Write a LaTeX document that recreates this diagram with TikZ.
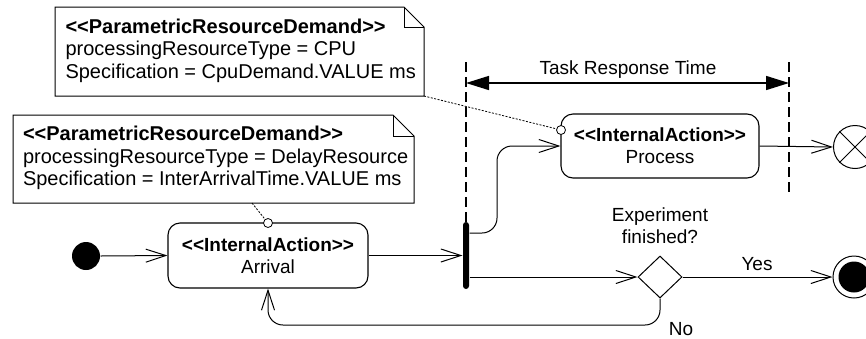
\documentclass[tikz,border=0pt]{standalone}
\usepackage{fontspec}
\setmainfont{Liberation Sans}
\usetikzlibrary{shapes.geometric,arrows.meta,calc}
\newcommand\st[1]{<\kern0pt<#1>\kern0pt>}
\begin{document}
\begin{tikzpicture}[x=1pt,y=-1pt, line width=1pt, font=\fontsize{19}{22}\selectfont,
 flow/.style={-{Straight Barb[length=20pt,width=13pt]}},
 action/.style={draw, rounded corners=12pt, minimum width=200pt, minimum height=65pt, align=center, inner sep=0pt, line width=1.1pt},
 notebox/.style={inner sep=0pt, anchor=north west},
 notetext/.style={inner sep=0pt, align=left, anchor=west, font=\fontsize{20}{22.5}\selectfont},
 port/.style={circle, draw, fill=white, minimum size=9pt, inner sep=0pt, line width=0.8pt},
 link/.style={dash pattern=on 2pt off 1.5pt, line width=0.8pt},
 vdash/.style={dash pattern=on 10pt off 5pt, line width=1.5pt},
 lbl/.style={inner sep=0pt, align=center}]
\useasboundingbox (0,0) rectangle (866,338);
% notes
\node[notebox, minimum width=368pt, minimum height=88pt] (n1) at (55,7) {};
\draw (n1.south west) -- (n1.north west) -- ([xshift=-20pt]n1.north east) -- ([yshift=-20pt]n1.north east) -- (n1.south east) -- cycle;
\draw ([xshift=-20pt]n1.north east) |- ([yshift=-20pt]n1.north east);
\node[notetext] (n1t) at ([xshift=10pt,yshift=1pt]n1.west)
 {\textbf{\st{ParametricResourceDemand}}\\processingResourceType = CPU\\Specification = CpuDemand.VALUE ms};
\node[notebox, minimum width=400pt, minimum height=87pt] (n2) at (13,115) {};
\draw (n2.south west) -- (n2.north west) -- ([xshift=-21pt]n2.north east) -- ([yshift=-21pt]n2.north east) -- (n2.south east) -- cycle;
\draw ([xshift=-21pt]n2.north east) |- ([yshift=-21pt]n2.north east);
\node[notetext] (n2t) at ([xshift=9.5pt,yshift=1pt]n2.west)
 {\textbf{\st{ParametricResourceDemand}}\\processingResourceType = DelayResource\\Specification = InterArrivalTime.VALUE ms};
% actions
\node[action] (arr) at (268,255.5) {\textbf{\st{InternalAction}}\\Arrival};
\node[action, minimum width=198pt, minimum height=64pt] (proc) at (660,146) {\textbf{\st{InternalAction}}\\Process};
\node[circle, fill=black, minimum size=28pt, inner sep=0pt] (init) at (86,256) {};
\node[fill=black, minimum width=6pt, minimum height=67pt, inner sep=0pt, rounded corners=3pt] (fork) at (466,255.5) {};
\node[diamond, draw, minimum width=44pt, minimum height=42pt, inner sep=0pt, aspect=1.05] (dec) at (660,277) {};
\node[circle, draw, minimum size=42pt, inner sep=0pt] (fin) at (854,277) {};
\node[circle, fill=black, minimum size=31pt, inner sep=0pt] (fini) at (fin) {};
\node[circle, draw, minimum size=43pt, inner sep=0pt] (ff) at (855,147) {};
\draw (ff.north west) -- (ff.south east) (ff.north east) -- (ff.south west);
% response time
\coordinate (dl) at (466,62);
\coordinate (dr) at (789,62);
\coordinate (drb) at (789,192);
\draw[vdash] (dl) -- (fork.north);
\draw[vdash] (dr) -- (drb);
\coordinate (da) at (466,83);
\coordinate (db) at (789,83);
\draw[{Triangle[length=23pt,width=14pt]}-{Triangle[length=23pt,width=14pt]}, line width=1.5pt] (da) -- (db);
\node[lbl] (trt) at (628,70) {Task Response Time};
% flows
\draw[flow] (init.east) -- (arr.west);
\draw[flow] (arr.east) -- (fork.west);
\draw[flow, rounded corners=15pt] ([yshift=22.5pt]fork.east) -- (497,233) -- (497,146) -- (proc.west);
\draw[flow] ([yshift=-21.5pt]fork.east) -- (dec.west);
\draw[flow] (proc.east) -- (ff.west);
\draw[flow] (dec.east) -- (fin.west);
\draw[flow, rounded corners=15pt] (dec.south) -- (660,325) -- (268,325) -- (arr.south);
\node[lbl] (q) at (660,226) {Experiment\\finished?};
\node[lbl] (yes) at (757,264) {Yes};
\node[lbl] (no) at (681,329) {No};
% note links
\node[port] (p1) at (268,223) {};
\node[port] (p2) at (561,130) {};
\draw[link] (n1.south east) -- (p2);
\draw[link] ($(n2.south west)+(239,0)$) -- (p1);
\end{tikzpicture}
\end{document}
